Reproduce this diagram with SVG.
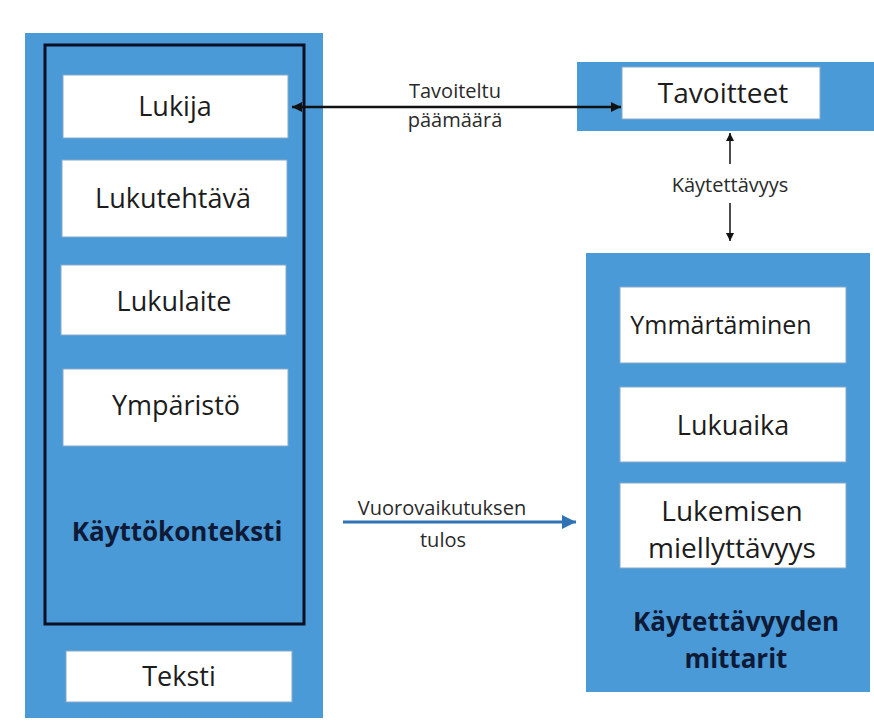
<svg xmlns="http://www.w3.org/2000/svg" width="874" height="724" viewBox="0 0 874 724">
  <style>
    .panel { fill: #4a9ad8; }
    .box { fill: #ffffff; stroke: #86a9c8; stroke-width: 1; }
    .lbl { font-family: "Open Sans", "Liberation Sans", sans-serif; font-size: 27px; fill: #1c1c1c; text-anchor: middle; }
    .bold { font-family: "Open Sans", "Liberation Sans", sans-serif; font-size: 26px; font-weight: bold; fill: #0e1a36; text-anchor: middle; }
    .edge { font-family: "Open Sans", "Liberation Sans", sans-serif; font-size: 20px; fill: #2a2a2a; text-anchor: middle; }
    .black { stroke: #111111; fill: none; }
    .blue { stroke: #2f73b4; fill: none; }
  </style>
  <defs>
    <marker id="headBlack" viewBox="0 0 10 10" refX="10" refY="5" markerWidth="11" markerHeight="10" markerUnits="userSpaceOnUse" orient="auto-start-reverse">
      <path d="M0,0 L10,5 L0,10 Z" fill="#111111"/>
    </marker>
    <marker id="headSmall" viewBox="0 0 10 10" refX="10" refY="5" markerWidth="8" markerHeight="8" markerUnits="userSpaceOnUse" orient="auto">
      <path d="M0,0 L10,5 L0,10 Z" fill="#111111"/>
    </marker>
    <marker id="headBlue" viewBox="0 0 10 10" refX="10" refY="5" markerWidth="14" markerHeight="14" markerUnits="userSpaceOnUse" orient="auto">
      <path d="M0,0 L10,5 L0,10 Z" fill="#2f73b4"/>
    </marker>
  </defs>

  <rect width="874" height="724" fill="#ffffff"/>

  <!-- left column: context of use -->
  <g id="context-panel">
    <rect class="panel" x="25" y="33" width="298" height="685"/>
    <rect x="45" y="45" width="259" height="579" fill="none" stroke="#0b0f24" stroke-width="3"/>
    <text class="bold" x="177" y="541">Käyttökonteksti</text>
  </g>
  <g id="node-lukija">
    <rect class="box" x="63" y="75" width="225" height="63"/>
    <text class="lbl" x="175" y="116">Lukija</text>
  </g>
  <g id="node-lukutehtava">
    <rect class="box" x="62" y="160" width="225" height="77"/>
    <text class="lbl" x="173" y="208">Lukutehtävä</text>
  </g>
  <g id="node-lukulaite">
    <rect class="box" x="61" y="265" width="225" height="70"/>
    <text class="lbl" x="174" y="311">Lukulaite</text>
  </g>
  <g id="node-ymparisto">
    <rect class="box" x="63" y="369" width="225" height="77"/>
    <text class="lbl" x="176" y="415">Ympäristö</text>
  </g>
  <g id="node-teksti">
    <rect class="box" x="66" y="651" width="226" height="51"/>
    <text class="lbl" x="179" y="686">Teksti</text>
  </g>

  <!-- top right: goals -->
  <g id="goals-panel">
    <rect class="panel" x="577" y="62" width="297" height="69"/>
  </g>
  <g id="node-tavoitteet">
    <rect class="box" x="622" y="67" width="198" height="52"/>
    <text class="lbl" x="723" y="103" style="font-size:28px">Tavoitteet</text>
  </g>

  <!-- bottom right: usability measures -->
  <g id="measures-panel">
    <rect class="panel" x="586" y="253" width="284" height="439"/>
    <text class="bold" x="736" y="631">Käytettävyyden</text>
    <text class="bold" x="736" y="668">mittarit</text>
  </g>
  <g id="node-ymmartaminen">
    <rect class="box" x="620" y="287" width="226" height="76"/>
    <text class="lbl" x="721" y="334" style="font-size:25px">Ymmärtäminen</text>
  </g>
  <g id="node-lukuaika">
    <rect class="box" x="620" y="387" width="226" height="75"/>
    <text class="lbl" x="733" y="435">Lukuaika</text>
  </g>
  <g id="node-lukemisen">
    <rect class="box" x="620" y="483" width="226" height="85"/>
    <text class="lbl" x="732" y="521" style="font-size:28px">Lukemisen</text>
    <text class="lbl" x="732" y="558" style="font-size:28px">miellyttävyys</text>
  </g>

  <!-- connectors -->
  <g id="connectors">
    <line class="black" x1="292" y1="107" x2="621" y2="107" stroke-width="2.5" marker-start="url(#headBlack)" marker-end="url(#headBlack)"/>
    <text class="edge" x="455" y="98">Tavoiteltu</text>
    <text class="edge" x="455" y="127">päämäärä</text>

    <line class="black" x1="730" y1="164" x2="730" y2="133" stroke-width="1.5" marker-end="url(#headSmall)"/>
    <text class="edge" x="730" y="192">Käytettävyys</text>
    <line class="black" x1="730" y1="203" x2="730" y2="241" stroke-width="1.5" marker-end="url(#headSmall)"/>

    <line class="blue" x1="343" y1="522" x2="576" y2="522" stroke-width="3" marker-end="url(#headBlue)"/>
    <text class="edge" x="442" y="515">Vuorovaikutuksen</text>
    <text class="edge" x="443" y="547">tulos</text>
  </g>
</svg>
